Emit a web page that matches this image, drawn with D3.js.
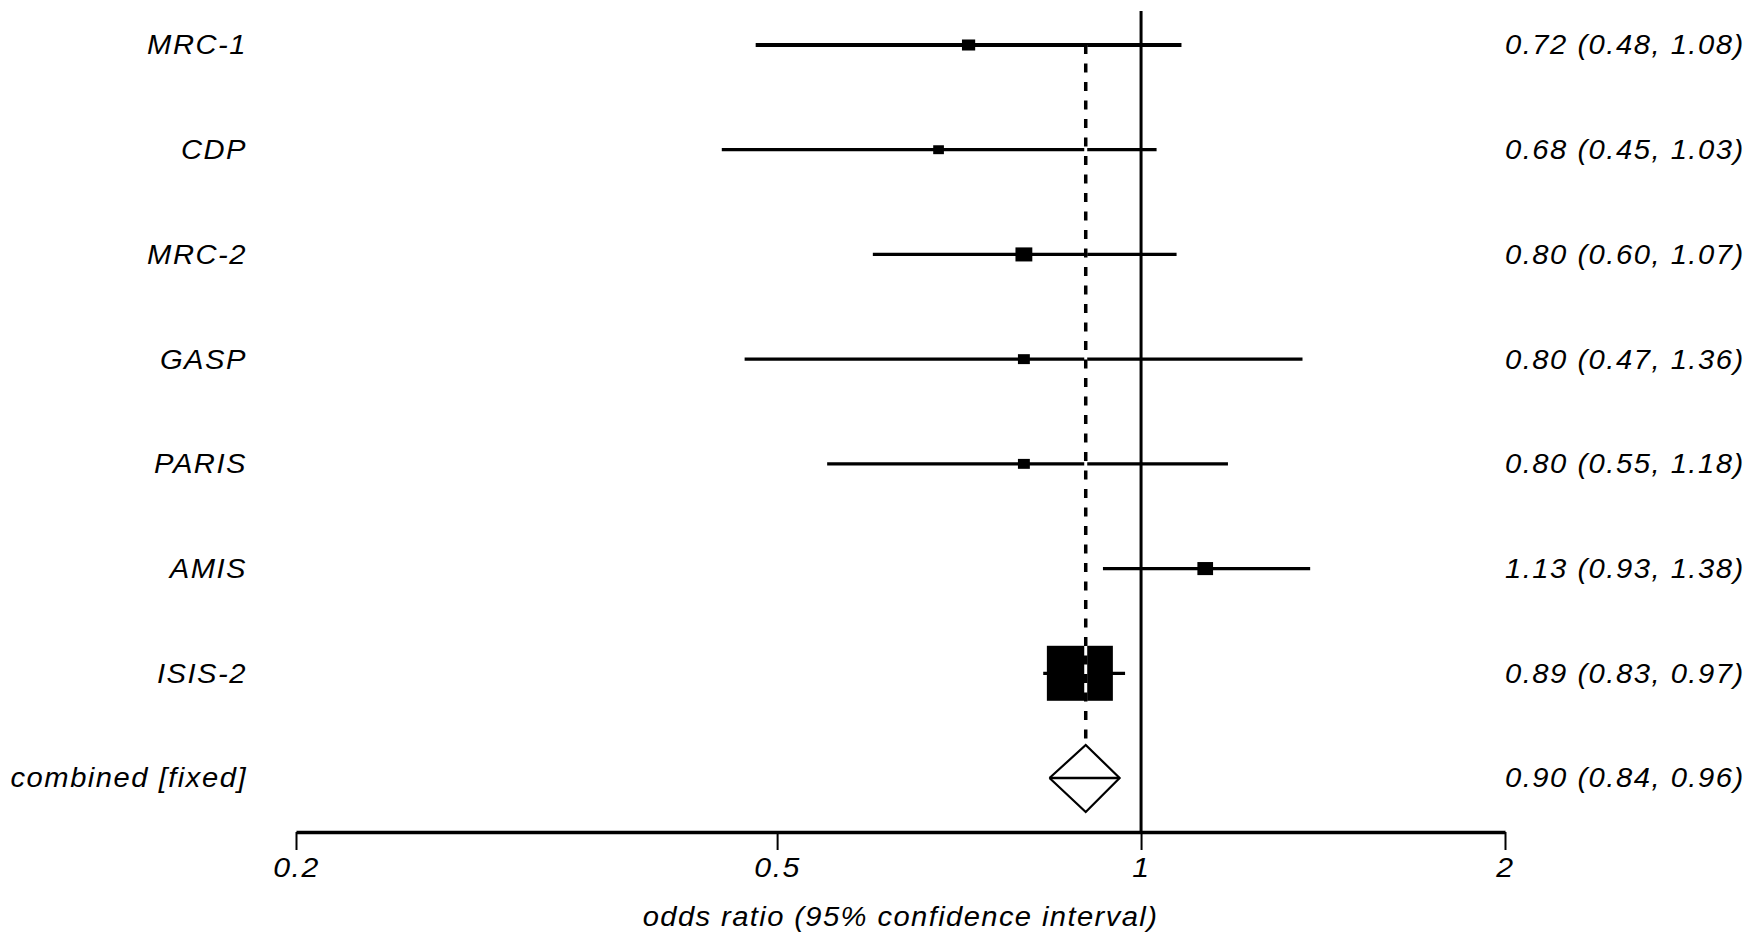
<!DOCTYPE html>
<html>
<head>
<meta charset="utf-8">
<script src="https://cdn.jsdelivr.net/npm/d3@7"></script>
<style>
  body { margin: 0; background: #fff; }
  text { font-family: "Liberation Sans", Arial, sans-serif; font-style: italic; fill: #000; }
</style>
</head>
<body>
<div id="chart"></div>
<script>
const studies = ["MRC-1", "CDP", "MRC-2", "GASP", "PARIS", "AMIS", "ISIS-2"];
const oddsRatio = [0.72, 0.68, 0.80, 0.80, 0.80, 1.13, 0.89];
const lower = [0.48, 0.45, 0.60, 0.47, 0.55, 0.93, 0.83];
const upper = [1.08, 1.03, 1.07, 1.36, 1.18, 1.38, 0.97];
const weights = [3.2, 2.1, 5.2, 2.6, 2.6, 4.5, 79.8];
const pooled = { label: "combined [fixed]", or: 0.90, lo: 0.84, hi: 0.96 };
const tickValues = [0.2, 0.5, 1, 2];
const axisTitle = "odds ratio (95% confidence interval)";

const width = 1760, height = 933;
const fmt = d3.format(".2f");
const stretch = 1.08; // glyphs in the original look a bit wide

const svg = d3.select("#chart")
  .append("svg")
  .attr("width", width)
  .attr("height", height);

const rows = studies.concat([pooled.label]);

const x = d3.scaleLog().domain([0.2, 2]).range([296, 1505]);
const y = d3.scalePoint().domain(rows).range([45, 778]);
const size = d3.scaleSqrt().domain([0, 79.8]).range([0, 55]);

const data = studies.map((s, i) => ({
  study: s, or: oddsRatio[i], lo: lower[i], hi: upper[i], w: weights[i]
}));

// CI lines
svg.selectAll(".ci")
  .data(data)
  .join("line")
  .attr("class", "ci")
  .attr("x1", d => x(d.lo))
  .attr("x2", d => x(d.hi))
  .attr("y1", d => y(d.study))
  .attr("y2", d => y(d.study))
  .attr("stroke", "#000")
  .attr("stroke-width", (d, i) => i === 0 ? 3.8 : 3.2);

// boxes
svg.selectAll(".box")
  .data(data)
  .join("rect")
  .attr("class", "box")
  .attr("x", d => x(d.or) - size(d.w) * 0.6)
  .attr("y", d => y(d.study) - size(d.w) / 2)
  .attr("width", d => size(d.w) * 1.2)
  .attr("height", d => size(d.w))
  .attr("fill", "#000");

// line of no effect
svg.append("line")
  .attr("x1", x(1)).attr("x2", x(1))
  .attr("y1", 11).attr("y2", 832)
  .attr("stroke", "#000")
  .attr("stroke-width", 3);

// pooled estimate dashed line (white underneath, black dashes)
const yp = y(pooled.label);
svg.append("line")
  .attr("x1", x(pooled.or)).attr("x2", x(pooled.or))
  .attr("y1", y(studies[0])).attr("y2", yp - 33)
  .attr("stroke", "#fff")
  .attr("stroke-width", 3);
svg.append("line")
  .attr("x1", x(pooled.or)).attr("x2", x(pooled.or))
  .attr("y1", y(studies[0])).attr("y2", yp - 33)
  .attr("stroke", "#000")
  .attr("stroke-width", 3.5)
  .attr("stroke-dasharray", "9,9.5");

// diamond
svg.append("path")
  .attr("d", d3.line()([
    [x(pooled.lo), yp], [x(pooled.or), yp - 33],
    [x(pooled.hi), yp], [x(pooled.or), yp + 34], [x(pooled.lo), yp]
  ]))
  .attr("fill", "#fff")
  .attr("stroke", "#000")
  .attr("stroke-width", 2.2)
  .attr("stroke-linejoin", "miter");
svg.append("line")
  .attr("x1", x(pooled.lo)).attr("x2", x(pooled.hi))
  .attr("y1", yp).attr("y2", yp)
  .attr("stroke", "#000")
  .attr("stroke-width", 2.5);

// labels
svg.selectAll(".lab")
  .data(rows)
  .join("text")
  .attr("class", "lab")
  .attr("transform", d => `translate(247,${y(d)}) scale(${stretch},1)`)
  .attr("dy", "0.35em")
  .attr("text-anchor", "end")
  .style("font-size", "27px")
  .style("letter-spacing", "1.4px")
  .text(d => d);

const est = data.map(d => [d.study, d.or, d.lo, d.hi])
  .concat([[pooled.label, pooled.or, pooled.lo, pooled.hi]]);
svg.selectAll(".est")
  .data(est)
  .join("text")
  .attr("class", "est")
  .attr("transform", d => `translate(1505,${y(d[0])}) scale(${stretch},1)`)
  .attr("dy", "0.35em")
  .style("font-size", "27px")
  .style("letter-spacing", "1.4px")
  .text(d => `${fmt(d[1])} (${fmt(d[2])}, ${fmt(d[3])})`);

// axis
const axis = svg.append("g")
  .attr("transform", "translate(0,832)")
  .call(d3.axisBottom(x).tickValues(tickValues).tickFormat(d3.format("")).tickSize(18).tickSizeOuter(0).tickPadding(8));
axis.select(".domain").attr("stroke-width", 3.5);
axis.selectAll(".tick line").attr("stroke-width", 2);
axis.selectAll(".tick text")
  .attr("transform", `scale(${stretch + 0.04},1)`)
  .style("font-size", "27px")
  .style("letter-spacing", "1.4px")
  .style("font-family", "'Liberation Sans', Arial, sans-serif")
  .style("font-style", "italic")
  .attr("fill", "#000");

svg.append("text")
  .attr("transform", `translate(${(x.range()[0] + x.range()[1]) / 2},926) scale(${stretch},1)`)
  .attr("text-anchor", "middle")
  .style("font-size", "27px")
  .style("letter-spacing", "1.3px")
  .text(axisTitle);
</script>
</body>
</html>
